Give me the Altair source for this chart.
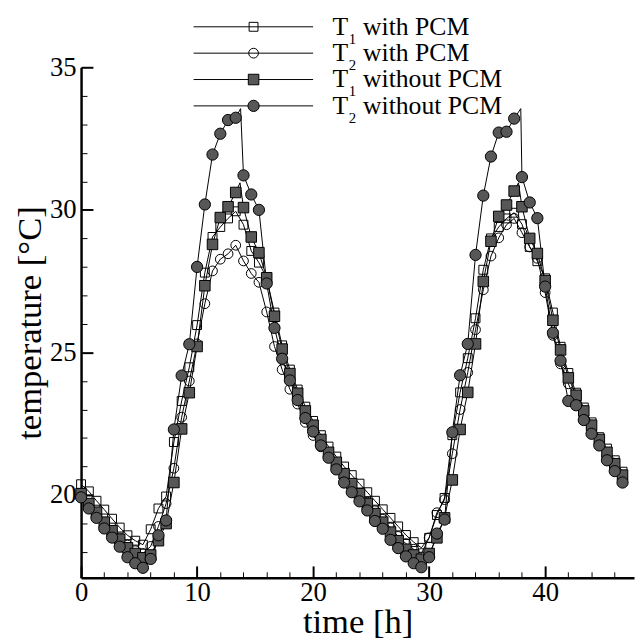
import altair as alt
import pandas as pd

FONT = "Liberation Serif, Times New Roman, Times, DejaVu Serif, serif"

SERIES = ["T1 with PCM", "T2 with PCM", "T1 without PCM", "T2 without PCM"]
LEG_MAIN = ["T", "T", "T", "T"]
LEG_SUB = ["1", "2", "1", "2"]
LEG_REST = ["with PCM", "with PCM", "without PCM", "without PCM"]

TIME = [0, 0.67, 1.33, 2, 2.67, 3.33, 4, 4.67, 5.33, 6, 6.67, 7.33,
        8, 8.67, 9.33, 10, 10.67, 11.33, 12, 12.67, 13.33, 14, 14.67, 15.33,
        16, 16.67, 17.33, 18, 18.67, 19.33, 20, 20.67, 21.33, 22, 22.67, 23.33,
        24, 24.67, 25.33, 26, 26.67, 27.33, 28, 28.67, 29.33, 30, 30.67, 31.33,
        32, 32.67, 33.33, 34, 34.67, 35.33, 36, 36.67, 37.33, 38, 38.67, 39.33,
        40, 40.67, 41.33, 42, 42.67, 43.33, 44, 44.67, 45.33, 46, 46.67]

T1_WITH = [20.38, 20.13, 19.80, 19.49, 19.17, 18.86, 18.59, 18.40, 18.26, 18.80, 19.53, 19.95,
           21.86, 23.30, 24.48, 25.96, 27.80, 29.05, 29.40, 29.70, 29.95, 29.48, 28.56, 28.15,
           27.60, 26.40, 25.25, 24.40, 23.70, 23.10, 22.60, 22.10, 21.70, 21.35, 21.00, 20.70,
           20.40, 20.10, 19.80, 19.50, 19.20, 18.90, 18.60, 18.35, 18.15, 18.50, 19.30, 19.90,
           22.10, 23.60, 24.80, 26.20, 27.90, 29.00, 29.40, 29.70, 29.90, 29.50, 28.70, 28.20,
           27.60, 26.40, 25.20, 24.28, 23.59, 23.07, 22.55, 22.03, 21.63, 21.22, 20.82]

T2_WITH = [19.95, 19.60, 19.30, 19.00, 18.75, 18.50, 18.25, 18.05, 17.95, 18.20, 18.90, 19.70,
           20.94, 22.73, 24.00, 25.30, 26.71, 27.86, 28.27, 28.46, 28.76, 28.21, 27.77, 27.46,
           26.42, 25.21, 24.40, 23.71, 23.19, 22.55, 22.09, 21.69, 21.34, 21.00, 20.65, 20.35,
           20.05, 19.75, 19.45, 19.15, 18.85, 18.55, 18.30, 18.10, 17.95, 18.50, 19.38, 19.84,
           21.45, 23.00, 24.30, 25.80, 27.20, 28.38, 29.02, 29.48, 29.70, 29.20, 28.70, 28.30,
           27.10, 25.60, 24.60, 23.90, 23.30, 22.80, 22.30, 21.85, 21.40, 21.00, 20.60]

T1_WITHOUT = [20.05, 19.70, 19.40, 19.05, 18.75, 18.45, 18.15, 17.95, 17.80, 17.90, 18.40, 19.00,
              20.44, 22.32, 23.59, 25.21, 27.34, 28.79, 29.73, 30.11, 30.61, 30.08, 29.05, 28.50,
              27.62, 26.27, 25.12, 24.26, 23.57, 22.95, 22.45, 21.95, 21.50, 21.15, 20.75, 20.40,
              20.05, 19.70, 19.35, 19.05, 18.70, 18.40, 18.10, 17.90, 17.75, 17.95, 18.50, 19.20,
              20.53, 22.30, 23.60, 25.30, 27.49, 28.90, 29.77, 30.17, 30.66, 30.11, 29.00, 28.47,
              27.52, 26.13, 25.09, 24.11, 23.50, 22.95, 22.45, 21.95, 21.50, 21.10, 20.70]

T2_WITHOUT = [19.92, 19.53, 19.20, 18.83, 18.51, 18.19, 17.82, 17.61, 17.45, 17.76, 18.59, 19.11,
              22.30, 24.19, 25.29, 28.00, 30.19, 31.94, 32.67, 33.15, 33.23, 31.21, 30.54, 30.00,
              27.42, 25.86, 24.78, 24.02, 23.33, 22.70, 22.23, 21.74, 21.31, 20.90, 20.44, 20.10,
              19.78, 19.46, 19.09, 18.82, 18.43, 18.14, 17.85, 17.61, 17.47, 17.82, 18.65, 19.14,
              22.20, 24.20, 25.30, 28.42, 30.50, 31.87, 32.71, 32.74, 33.20, 31.15, 30.26, 29.71,
              27.31, 25.69, 24.71, 23.30, 23.15, 22.63, 22.15, 21.74, 21.22, 20.84, 20.44]

# extra line vertices (short spikes drawn by the line only, no marker)
PEAK_SERIES = ["T1 without PCM", "T2 without PCM", "T1 without PCM", "T2 without PCM"]
PEAK_TIME = [13.7, 13.75, 37.7, 37.9]
PEAK_TEMP = [30.95, 33.55, 30.95, 33.55]

X_TICKS = list(range(0, 48, 2))
Y_TICKS = list(range(18, 36))

SHAPES = ["square", "circle", "square", "circle"]
FILLS = ["transparent", "transparent", "#575757", "#575757"]
SIZES = [81, 130, 81, 150]

VALUES = [T1_WITH, T2_WITH, T1_WITHOUT, T2_WITHOUT]

pts_df = pd.concat(
    [pd.DataFrame({"series": s, "time": TIME, "temp": v, "k": i})
     for i, (s, v) in enumerate(zip(SERIES, VALUES))],
    ignore_index=True,
)
peak_df = pd.DataFrame({"series": PEAK_SERIES, "time": PEAK_TIME, "temp": PEAK_TEMP,
                        "k": [SERIES.index(s) for s in PEAK_SERIES]})
line_df = pd.concat([pts_df, peak_df], ignore_index=True)
leg_df = pd.DataFrame({"series": SERIES, "main": LEG_MAIN, "sub": LEG_SUB,
                       "rest": LEG_REST, "k": list(range(4))})

W, H = 560, 517
x_scale = alt.Scale(domain=[0, 47.66], nice=False, zero=False)
y_scale = alt.Scale(domain=[17.1, 35], nice=False, zero=False)

major_x = "datum.value % 10 === 0"
major_y = "datum.value % 5 === 0"

x_axis_main = alt.Axis(
    values=X_TICKS, labelExpr=f"{major_x} ? datum.label : ''",
    grid=False, ticks=False, tickSize=0,
    domainColor="black", domainWidth=2.5,
    labelFont=FONT, labelFontSize=27, labelColor="black", labelPadding=2,
    labelFlush=False, labelOverlap=False,
    title="time [h]", titleFont=FONT, titleFontSize=35, titleFontWeight="normal",
    titleColor="black", titlePadding=-1,
)
x_axis_ticks = alt.Axis(
    orient="top", values=X_TICKS, grid=True, gridColor="black", gridOpacity=1,
    gridDash={"condition": {"test": major_x, "value": [12, 3000]}, "value": [6, 3000]},
    gridWidth={"condition": {"test": major_x, "value": 2}, "value": 1},
    labels=False, ticks=False, domain=False, title=None,
)
y_axis = alt.Axis(
    values=Y_TICKS, labelExpr=f"{major_y} ? datum.label : ''",
    grid=True, gridColor="black", gridOpacity=1,
    gridDash={"condition": {"test": major_y, "value": [12, 3000]}, "value": [6, 3000]},
    gridWidth={"condition": {"test": major_y, "value": 2}, "value": 1},
    ticks=False, tickSize=0,
    domainColor="black", domainWidth=2.5,
    labelFont=FONT, labelFontSize=27, labelColor="black", labelPadding=5,
    labelFlush=False, labelOverlap=False,
    title="temperature [°C]", titleFont=FONT, titleFontSize=35, titleFontWeight="normal",
    titleColor="black", titlePadding=2,
)

shape_enc = alt.Shape("series:N", scale=alt.Scale(domain=SERIES, range=SHAPES), legend=None)
fill_enc = alt.Fill("series:N", scale=alt.Scale(domain=SERIES, range=FILLS), legend=None)
size_enc = alt.Size("series:N", scale=alt.Scale(domain=SERIES, range=SIZES), legend=None)

lines = alt.Chart(line_df).mark_line(color="black", strokeWidth=1).encode(
    x=alt.X("time:Q", scale=x_scale, axis=x_axis_main),
    y=alt.Y("temp:Q", scale=y_scale, axis=y_axis),
    detail="series:N",
    order="time:Q",
)

points = alt.Chart(pts_df).mark_point(filled=True, stroke="black", strokeWidth=1, opacity=1).encode(
    x=alt.X("time:Q", scale=x_scale, axis=x_axis_ticks),
    y=alt.Y("temp:Q", scale=y_scale, axis=y_axis),
    shape=shape_enc, fill=fill_enc, size=size_enc,
    order=alt.Order("k:Q"),
)

leg_base = alt.Chart(leg_df).transform_calculate(ly="-41 + 26.7 * datum.k")
ly = alt.Y("ly:Q", scale=None)
leg_rule = leg_base.mark_rule(color="black", strokeWidth=1).encode(
    x=alt.value(114), x2=alt.value(235), y=ly)
leg_pt = leg_base.mark_point(filled=True, stroke="black", strokeWidth=1, opacity=1).encode(
    x=alt.value(174.7), y=ly, shape=shape_enc, fill=fill_enc, size=size_enc)
txt = dict(align="left", baseline="middle", font=FONT, color="black")
leg_main = leg_base.mark_text(fontSize=26, **txt).encode(x=alt.value(254.7), y=ly, text="main:N")
leg_sub = leg_base.mark_text(fontSize=15, dy=12, **txt).encode(x=alt.value(271), y=ly, text="sub:N")
leg_rest = leg_base.mark_text(fontSize=26, **txt).encode(x=alt.value(285.5), y=ly, text="rest:N")

chart = alt.layer(
    lines, points, leg_rule, leg_pt, leg_main, leg_sub, leg_rest
).resolve_axis(x="independent").properties(
    width=W, height=H,
    padding={"left": 74, "top": 56, "right": 1, "bottom": 60},
    autosize=alt.AutoSizeParams(type="none"),
    background="white",
).configure_view(stroke=None)

chart.save("out.html", embed_options={"renderer": "svg", "actions": False})
